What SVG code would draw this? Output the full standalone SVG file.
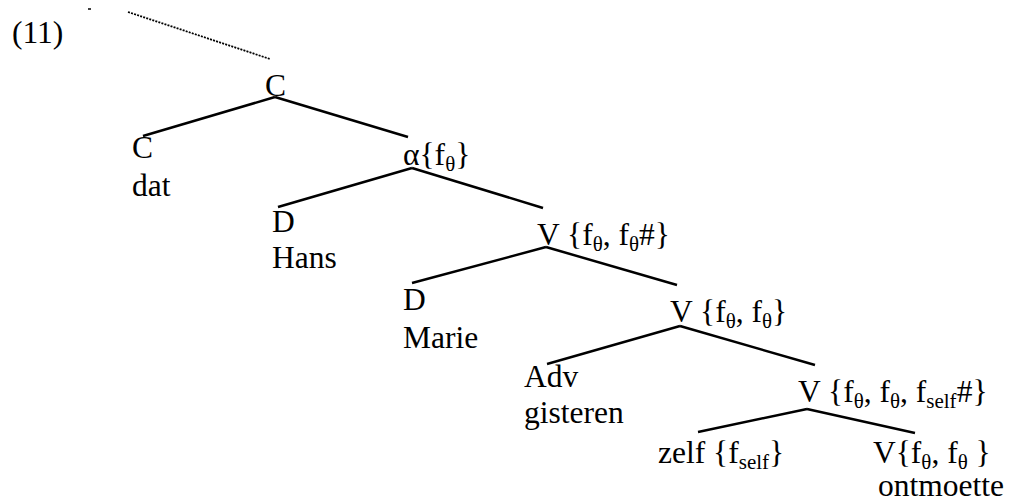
<svg xmlns="http://www.w3.org/2000/svg" width="1019" height="500" viewBox="0 0 1019 500">
<style>
text{font-family:"Liberation Serif","Times New Roman",serif;font-size:31.5px;fill:#000}
.s{font-size:21px}
.e{stroke:#000;stroke-width:2.5;fill:none}
</style>
<rect width="1019" height="500" fill="#fff"/>
<text x="12" y="43">(11)</text>
<line x1="88" y1="9" x2="91" y2="9" stroke="#000" stroke-width="1.5"/>
<g id="connectors">
<line x1="128" y1="12" x2="270" y2="59" stroke="#000" stroke-width="1.8" stroke-dasharray="2 1.2"/>
<line class="e" x1="275" y1="97" x2="143" y2="136"/>
<line class="e" x1="275" y1="97" x2="408" y2="137"/>
<line class="e" x1="412" y1="168" x2="278" y2="207"/>
<line class="e" x1="412" y1="168" x2="543" y2="208"/>
<line class="e" x1="546" y1="247" x2="412" y2="283"/>
<line class="e" x1="546" y1="247" x2="677" y2="285"/>
<line class="e" x1="680" y1="326" x2="547" y2="364"/>
<line class="e" x1="680" y1="326" x2="815" y2="365"/>
<line class="e" x1="807" y1="409" x2="698" y2="432"/>
<line class="e" x1="807" y1="409" x2="915" y2="433"/>
</g>
<g id="n-C-top"><text x="265" y="96">C</text></g>
<g id="n-C-dat"><text x="132" y="158">C</text><text x="132" y="196">dat</text></g>
<g id="n-alpha"><text x="403" y="165">α{f<tspan class="s" dy="6">θ</tspan><tspan dy="-6">}</tspan></text></g>
<g id="n-D-Hans"><text x="272" y="232">D</text><text x="272" y="268">Hans</text></g>
<g id="n-V1"><text x="537" y="245">V {f<tspan class="s" dy="6">θ</tspan><tspan dy="-6">, f</tspan><tspan class="s" dy="6">θ</tspan><tspan dy="-6">#}</tspan></text></g>
<g id="n-D-Marie"><text x="403" y="310">D</text><text x="403" y="348">Marie</text></g>
<g id="n-V2"><text x="670" y="322">V {f<tspan class="s" dy="6">θ</tspan><tspan dy="-6">, f</tspan><tspan class="s" dy="6">θ</tspan><tspan dy="-6">}</tspan></text></g>
<g id="n-Adv"><text x="524" y="387">Adv</text><text x="524" y="423">gisteren</text></g>
<g id="n-V3"><text x="798" y="402">V {f<tspan class="s" dy="6">θ</tspan><tspan dy="-6">, f</tspan><tspan class="s" dy="6">θ</tspan><tspan dy="-6">, f</tspan><tspan class="s" dy="6">self</tspan><tspan dy="-6">#}</tspan></text></g>
<g id="n-zelf"><text x="658" y="463">zelf {f<tspan class="s" dy="6">self</tspan><tspan dy="-6">}</tspan></text></g>
<g id="n-V4"><text x="873" y="463">V{f<tspan class="s" dy="6">θ</tspan><tspan dy="-6">, f</tspan><tspan class="s" dy="6">θ</tspan><tspan dy="-6"> }</tspan></text><text x="878" y="496">ontmoette</text></g>
</svg>
